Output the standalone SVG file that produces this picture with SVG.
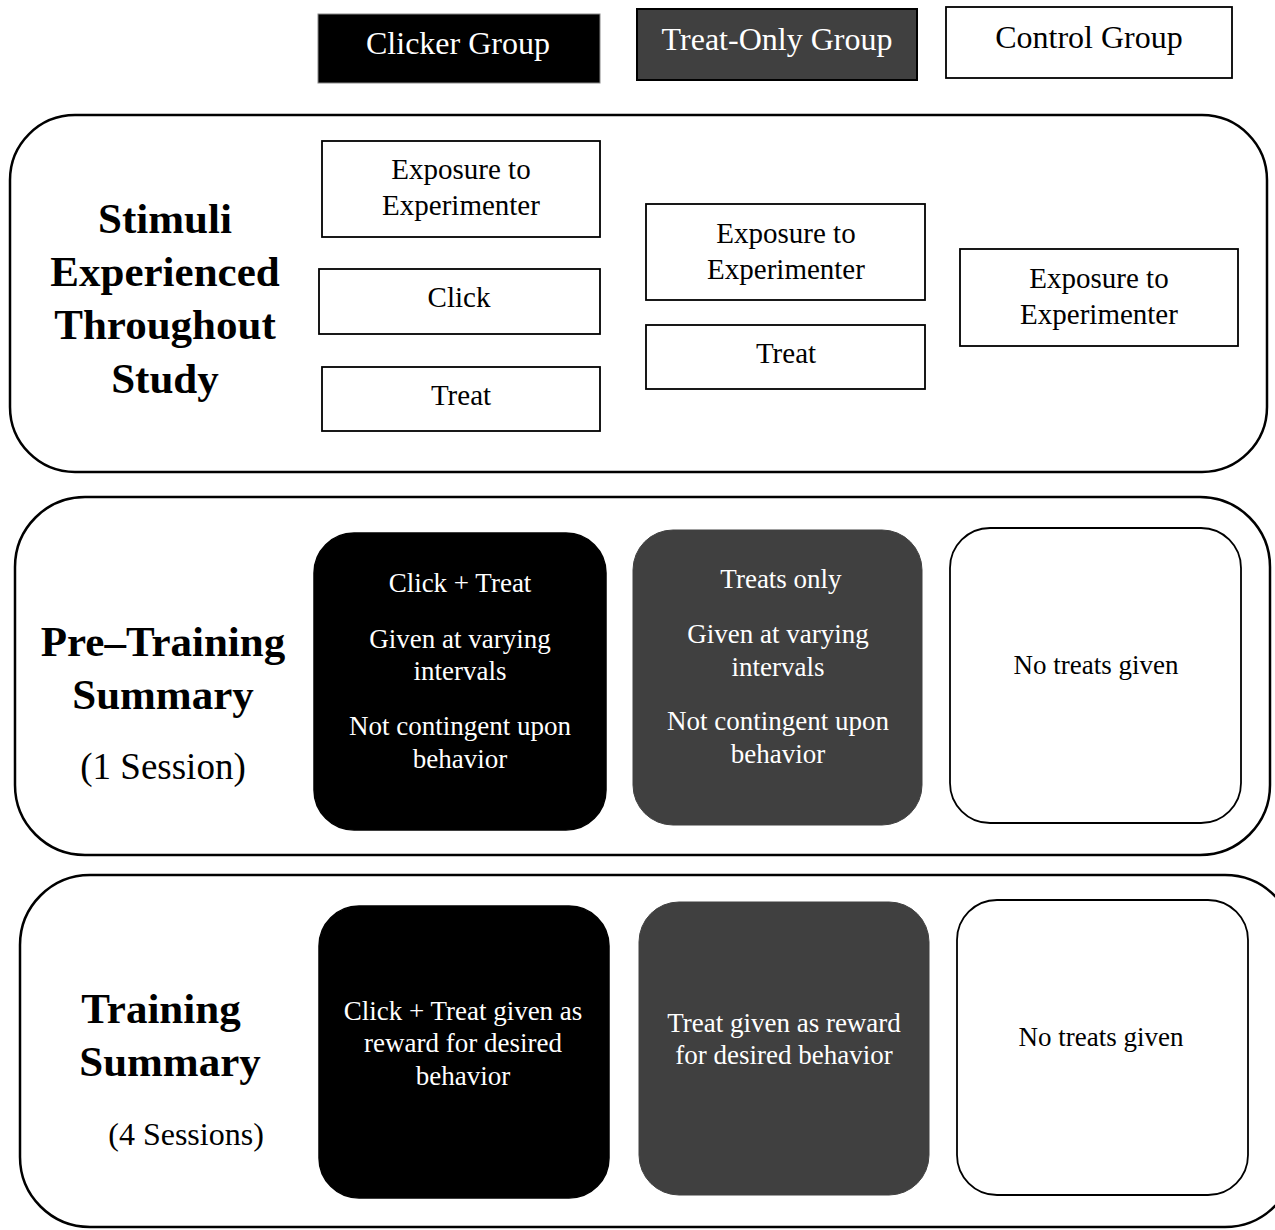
<svg xmlns="http://www.w3.org/2000/svg" width="1275" height="1230" viewBox="0 0 1275 1230" font-family="Liberation Serif, Times New Roman, serif">
<style>
text{text-anchor:middle}
.hd{font-size:32px}
.s{font-size:29px}
.t{font-size:27px}
.w{fill:#fff}
.big{font-size:43px;font-weight:bold}
.frame{fill:#fff;stroke:#000;stroke-width:2.5}
.box{fill:#fff;stroke:#000;stroke-width:1.8}
.blk{fill:#000;stroke:#000;stroke-width:1.5}
.gry{fill:#404040;stroke:#000;stroke-width:2}
</style>
<rect width="1275" height="1230" fill="#fff"/>
<g id="header-clicker"><rect x="318" y="14" width="282" height="69" fill="#000" stroke="#888" stroke-width="1"/><text class="hd w" x="458" y="54">Clicker Group</text></g>
<g id="header-treat"><rect x="637" y="9" width="280" height="71" class="gry"/><text class="hd w" x="777" y="50">Treat-Only Group</text></g>
<g id="header-control"><rect x="946" y="7" width="286" height="71" class="box"/><text class="hd" x="1089" y="48">Control Group</text></g>

<g id="stimuli">
<rect x="10" y="115" width="1257" height="357" rx="65" class="frame"/>
<text class="big" x="165" y="233">Stimuli</text>
<text class="big" x="165" y="286">Experienced</text>
<text class="big" x="165" y="339">Throughout</text>
<text class="big" x="165" y="393">Study</text>
</g>
<g id="s-c-exp"><rect x="322" y="141" width="278" height="96" class="box"/><text class="s" x="461" y="179">Exposure to</text><text class="s" x="461" y="215">Experimenter</text></g>
<g id="s-c-click"><rect x="319" y="269" width="281" height="65" class="box"/><text class="s" x="459" y="307">Click</text></g>
<g id="s-c-treat"><rect x="322" y="367" width="278" height="64" class="box"/><text class="s" x="461" y="405">Treat</text></g>
<g id="s-t-exp"><rect x="646" y="204" width="279" height="96" class="box"/><text class="s" x="786" y="243">Exposure to</text><text class="s" x="786" y="279">Experimenter</text></g>
<g id="s-t-treat"><rect x="646" y="325" width="279" height="64" class="box"/><text class="s" x="786" y="363">Treat</text></g>
<g id="s-n-exp"><rect x="960" y="249" width="278" height="97" class="box"/><text class="s" x="1099" y="288">Exposure to</text><text class="s" x="1099" y="324">Experimenter</text></g>

<g id="pretraining">
<rect x="15" y="497" width="1255" height="358" rx="70" class="frame"/>
<text class="big" x="163" y="656">Pre–Training</text>
<text class="big" x="163" y="709">Summary</text>
<text x="163" y="779" font-size="37">(1 Session)</text>
</g>
<g id="p-clicker"><rect x="314" y="533" width="292" height="297" rx="40" class="blk"/>
<text class="t w" x="460" y="592">Click + Treat</text>
<text class="t w" x="460" y="648">Given at varying</text>
<text class="t w" x="460" y="680">intervals</text>
<text class="t w" x="460" y="735">Not contingent upon</text>
<text class="t w" x="460" y="768">behavior</text></g>
<g id="p-treat"><rect x="633" y="530" width="289" height="295" rx="40" fill="#404040" stroke="#404040"/>
<text class="t w" x="781" y="588">Treats only</text>
<text class="t w" x="778" y="643">Given at varying</text>
<text class="t w" x="778" y="676">intervals</text>
<text class="t w" x="778" y="730">Not contingent upon</text>
<text class="t w" x="778" y="763">behavior</text></g>
<g id="p-control"><rect x="950" y="528" width="291" height="295" rx="40" class="box"/>
<text class="t" x="1096" y="674">No treats given</text></g>

<g id="training">
<rect x="20" y="875" width="1275" height="352" rx="70" class="frame"/>
<text class="big" x="161" y="1023">Training</text>
<text class="big" x="170" y="1076">Summary</text>
<text x="186" y="1145" font-size="32">(4 Sessions)</text>
</g>
<g id="t-clicker"><rect x="319" y="906" width="290" height="292" rx="40" class="blk"/>
<text class="t w" x="463" y="1020">Click + Treat given as</text>
<text class="t w" x="463" y="1052">reward for desired</text>
<text class="t w" x="463" y="1085">behavior</text></g>
<g id="t-treat"><rect x="639" y="902" width="290" height="293" rx="40" fill="#404040" stroke="#404040"/>
<text class="t w" x="784" y="1032">Treat given as reward</text>
<text class="t w" x="784" y="1064">for desired behavior</text></g>
<g id="t-control"><rect x="957" y="900" width="291" height="295" rx="40" class="box"/>
<text class="t" x="1101" y="1046">No treats given</text></g>
<g id="connectors"></g>
</svg>
